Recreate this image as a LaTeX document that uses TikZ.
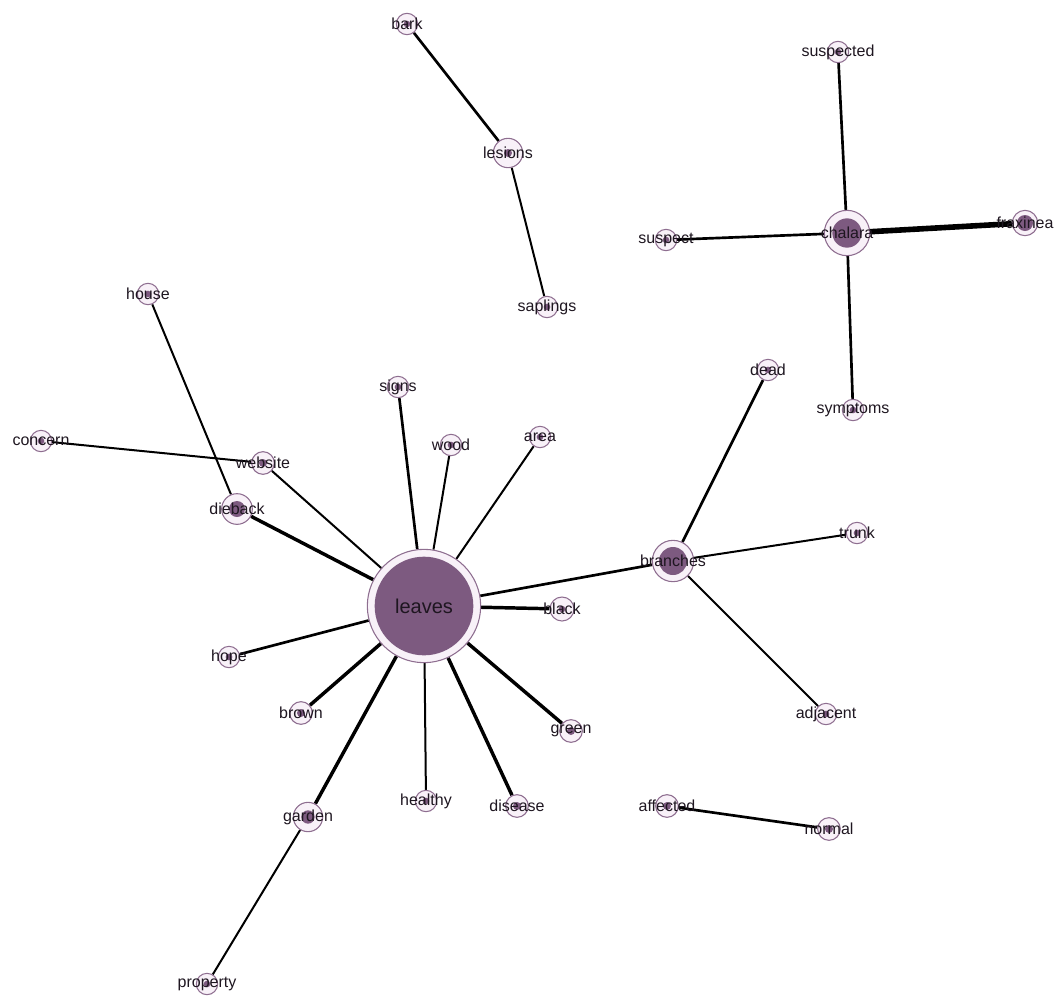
\documentclass[tikz,border=0pt]{standalone}
\usepackage{fontspec}
\setmainfont{Liberation Sans}
\usetikzlibrary{backgrounds}

\definecolor{ringline}{HTML}{8E6E90}
\definecolor{ringfill}{HTML}{F8F1F8}
\definecolor{core}{HTML}{7D5A80}
\definecolor{wordtext}{HTML}{1E1620}

\tikzset{
  word/.style 2 args={circle, draw=ringline, fill=ringfill, line width=0.8pt,
    minimum size=#1, inner sep=0pt,
    path picture={\fill[core] (path picture bounding box.center) circle (#2);}},
  link/.style={line width=1.5pt, black},
  heavy/.style={line width=2.6pt, black},
  heaviest/.style={line width=4.2pt, black}
}

\begin{document}
\begin{tikzpicture}[x=0.75pt, y=-0.75pt, font=\fontsize{12}{14}\selectfont]
    \useasboundingbox (0,0) rectangle (1057,1000);
    % the words: name/x/y/size/dot/label
    \foreach \nm/\x/\y/\d/\r/\lab in {
        bark/407/24/16pt/2.5pt/bark, lesions/508/153/22pt/3pt/lesions,
        saplings/547/307/16pt/2.5pt/saplings,
        suspected/838/52/16pt/2.5pt/suspected, chalara/847/233/34pt/11pt/chalara,
        suspect/666/240/16pt/2.5pt/suspect, fraxinea/1025/223/19pt/6pt/fraxinea,
        symptoms/853/410/16pt/2.5pt/symptoms,
        house/148/294/16pt/2.5pt/house, concern/41/441/16pt/2.5pt/concern,
        website/263/463/17pt/3pt/website, dieback/237/509/23pt/6pt/dieback,
        signs/398/387/16pt/2.5pt/signs, wood/451/445/16pt/2.5pt/wood,
        area/540/437/16pt/2.5pt/area, dead/768/370/16pt/2.5pt/dead,
        trunk/857/533/16pt/2.5pt/trunk, branches/673/561/31pt/10.5pt/branches,
        black/562/609/18pt/2.5pt/black, hope/229/657/16pt/2.5pt/hope,
        brown/301/713/17pt/3pt/brown, green/571/731/17pt/3pt/green,
        adjacent/826/714/16pt/2.5pt/adjacent, healthy/426/801/16pt/2.5pt/healthy,
        disease/517/806/17pt/3pt/disease, affected/667/806/17pt/3pt/affected,
        normal/829/829/17pt/3pt/normal, garden/308/817/22pt/5pt/garden,
        property/207/984/16pt/2.5pt/property}
        \node[word={\d}{\r}, label={[wordtext]center:\lab}] (\nm) at (\x,\y) {};
    \node[word={85pt}{37pt}, label={[wordtext, font=\fontsize{15}{17}\selectfont]center:leaves}] (leaves) at (424,606) {};

    % the co-occurrence links
    \begin{scope}[on background layer]
        \foreach \a/\b in {lesions/saplings, concern/website, house/dieback,
            website/leaves, wood/leaves, area/leaves, healthy/leaves,
            garden/property, branches/adjacent, branches/trunk}
            \draw[link] (\a) -- (\b);
        \foreach \a/\b in {bark/lesions, suspected/chalara, suspect/chalara,
            chalara/symptoms, signs/leaves, hope/leaves, leaves/branches,
            branches/dead, affected/normal}
            \draw[heavy, line width=2pt] (\a) -- (\b);
        \foreach \a/\b in {dieback/leaves, black/leaves, brown/leaves,
            green/leaves, disease/leaves, garden/leaves}
            \draw[heavy] (\a) -- (\b);
        \draw[heaviest] (chalara) -- (fraxinea);
    \end{scope}
\end{tikzpicture}
\end{document}
